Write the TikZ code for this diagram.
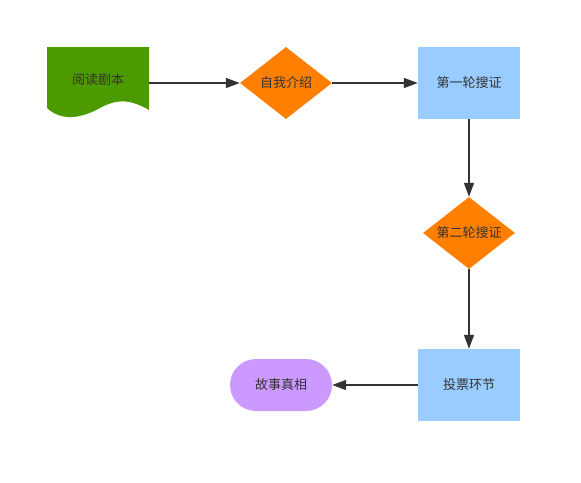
\documentclass[tikz,border=0pt]{standalone}
\usepackage{fontspec}
\setmainfont{Noto Sans CJK SC}
\usetikzlibrary{shapes.geometric,arrows.meta}
\definecolor{cgreen}{HTML}{4D9900}
\definecolor{corange}{HTML}{FF8000}
\definecolor{cblue}{HTML}{99CCFF}
\definecolor{cpurple}{HTML}{CC99FF}
\definecolor{ctext}{HTML}{333333}
\tikzset{
  lbl/.style={text=ctext,font=\fontsize{13}{15}\selectfont},
  dec/.style={diamond,fill=corange,minimum width=92pt,minimum height=72pt,inner sep=0pt,aspect=1.28,lbl},
  proc/.style={rectangle,fill=cblue,minimum width=102pt,minimum height=72pt,inner sep=0pt,lbl},
  term/.style={rectangle,rounded corners=26pt,fill=cpurple,minimum width=102pt,minimum height=52pt,inner sep=0pt,lbl},
  conn/.style={draw=ctext,line width=1.6pt,-{Triangle[length=14pt,width=10pt]}}
}
\begin{document}
\begin{tikzpicture}[x=1pt,y=-1pt]
\useasboundingbox (0,0) rectangle (581,482);
% document shape
\fill[cgreen] (47,47) -- (149,47) -- (149,110)
  .. controls (132,100) and (118,98) .. (100,108)
  .. controls (82,118) and (62,122) .. (47,108) -- cycle;
\node[lbl,minimum width=102pt,minimum height=60pt] (read) at (98,80) {阅读剧本};
\node[dec] (intro) at (286,83) {自我介绍};
\node[proc] (s1) at (469,83) {第一轮搜证};
\node[dec] (s2) at (469,233) {第二轮搜证};
\node[proc] (vote) at (469,385) {投票环节};
\node[term] (truth) at (281,385) {故事真相};
\draw[conn] (read.east |- intro.west) -- (intro.west);
\draw[conn] (intro.east) -- (s1.west);
\draw[conn] (s1.south) -- (s2.north);
\draw[conn] (s2.south) -- (vote.north);
\draw[conn] (vote.west) -- (truth.east);
\end{tikzpicture}
\end{document}
